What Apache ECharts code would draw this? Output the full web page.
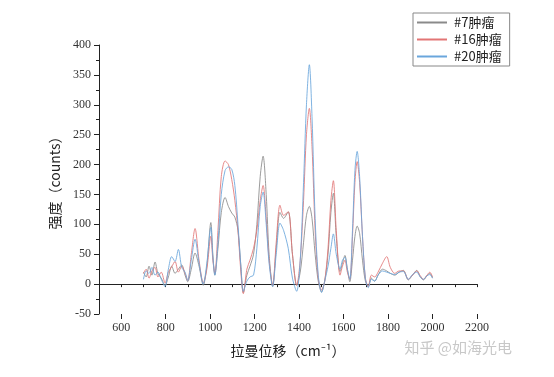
<!DOCTYPE html>
<html><head><meta charset="utf-8">
<script src="https://cdn.jsdelivr.net/npm/echarts@6/dist/echarts.min.js"></script>
<style>html,body{margin:0;padding:0;background:#fff}#c{width:554px;height:377px}</style>
</head><body><div id="c"></div>
<script>
const seriesNames = ['#7肿瘤', '#16肿瘤', '#20肿瘤'];
const xTicks = [600, 800, 1000, 1200, 1400, 1600, 1800, 2000, 2200];
const shifts = [700,712,725,738,752,765,780,797,812,827,842,857,872,887,899,915,932,950,969,985,1003,1012,1021,1035,1050,1067,1082,1097,1111,1125,1138,1149,1165,1179,1195,1210,1225,1238,1252,1265,1281,1297,1314,1330,1351,1370,1389,1405,1420,1433,1446,1458,1472,1486,1501,1515,1530,1543,1554,1567,1584,1595,1606,1617,1628,1640,1651,1661,1672,1685,1698,1711,1725,1740,1755,1775,1794,1810,1830,1850,1869,1891,1910,1929,1945,1959,1975,1988,2000];
const tumor7  = [20,12,30,15,37,18,10,-2,12,30,18,25,32,15,4,25,52,30,-2,30,103,50,15,60,120,145,130,119,112,90,30,-14,15,30,50,100,180,214,150,50,-4,60,120,110,121,50,-2,20,70,115,130,110,50,5,-13,5,50,120,152,80,21,35,48,25,4,40,80,97,85,40,5,-4,10,5,15,25,22,18,15,20,23,7,15,23,12,7,14,18,10];
const tumor16 = [18,25,10,22,28,12,20,2,20,29,38,20,30,18,6,50,93,40,2,25,80,40,18,90,180,206,200,175,140,90,20,-16,25,40,60,90,140,165,110,40,-2,70,132,115,121,50,-2,40,140,250,294,230,90,10,-10,5,60,140,173,90,15,30,40,20,8,80,170,205,170,80,10,-4,15,12,20,35,46,28,18,22,22,8,15,22,14,8,15,20,12];
const tumor20 = [8,22,18,28,15,20,8,-4,25,46,38,58,28,20,6,40,75,35,0,35,95,45,15,70,150,190,196,192,165,100,30,-12,5,12,15,60,130,154,100,35,-4,50,102,90,60,10,-12,40,170,300,367,280,110,15,-14,5,30,60,84,50,25,40,45,25,8,90,190,222,180,80,10,-6,8,5,15,22,20,18,16,20,21,8,16,20,12,8,14,16,10];

const colors = ['#8a8a8a', '#e27575', '#6aa6dc'];
const vals = [tumor7, tumor16, tumor20];
const serif = 'Liberation Serif';
const cjk = 'Noto Sans CJK SC';

const chart = echarts.init(document.getElementById('c'), null, {renderer: 'canvas'});
chart.setOption({
  animation: false,
  backgroundColor: '#fff',
  grid: {left: 99, right: 77, top: 45, bottom: 63, containLabel: false},
  legend: {
    data: seriesNames, orient: 'vertical', left: 413, top: 13,
    icon: 'rect', itemWidth: 30, itemHeight: 2, itemGap: 0,
    borderColor: '#888', borderWidth: 1, padding: [1, 8, 1, 4],
    textStyle: {fontFamily: cjk, fontSize: 13, color: '#222', lineHeight: 17, padding: [0, 0, 0, 2]}
  },
  xAxis: [{
    type: 'value', min: 500, max: 2200, interval: 100,
    axisLine: {lineStyle: {color: '#222', width: 1}},
    axisTick: {show: true, length: 3, lineStyle: {color: '#222'}},
    axisLabel: {customValues: xTicks, formatter: v => String(v), color: '#333', fontFamily: serif, fontSize: 12, margin: 8},
    splitLine: {show: false},
    name: '拉曼位移（cm⁻¹）', nameLocation: 'middle', nameGap: 30,
    nameTextStyle: {fontFamily: cjk, fontSize: 14, color: '#222'}
  }, {
    type: 'value', min: 500, max: 2200, position: 'bottom',
    axisLine: {show: false},
    axisTick: {show: true, length: 5, customValues: xTicks, lineStyle: {color: '#222'}},
    axisLabel: {show: false}, splitLine: {show: false}
  }],
  yAxis: {
    type: 'value', min: -50, max: 400, interval: 50,
    axisLine: {show: true, lineStyle: {color: '#222', width: 1}},
    axisTick: {show: true, length: 5, lineStyle: {color: '#222'}},
    minorTick: {show: true, splitNumber: 2, length: 3, lineStyle: {color: '#222'}},
    axisLabel: {formatter: v => String(v), color: '#333', fontFamily: serif, fontSize: 12, margin: 8},
    splitLine: {show: false},
    name: '强度（counts）', nameLocation: 'middle', nameGap: 30, nameRotate: 90,
    nameTextStyle: {fontFamily: cjk, fontSize: 14, color: '#222'}
  },
  series: seriesNames.map((n, i) => ({
    name: n, type: 'line', xAxisIndex: 0, symbol: 'none', smooth: 0.3,
    data: shifts.map((x, j) => [x, vals[i][j]]),
    lineStyle: {width: 1, color: colors[i], opacity: 0.85},
    itemStyle: {color: colors[i]}
  })),
  graphic: [{
    type: 'text', right: 42, top: 340,
    style: {text: '知乎 @如海光电', fontFamily: cjk, fontSize: 15, fill: '#c8c8c8'}
  }]
});
</script></body></html>
